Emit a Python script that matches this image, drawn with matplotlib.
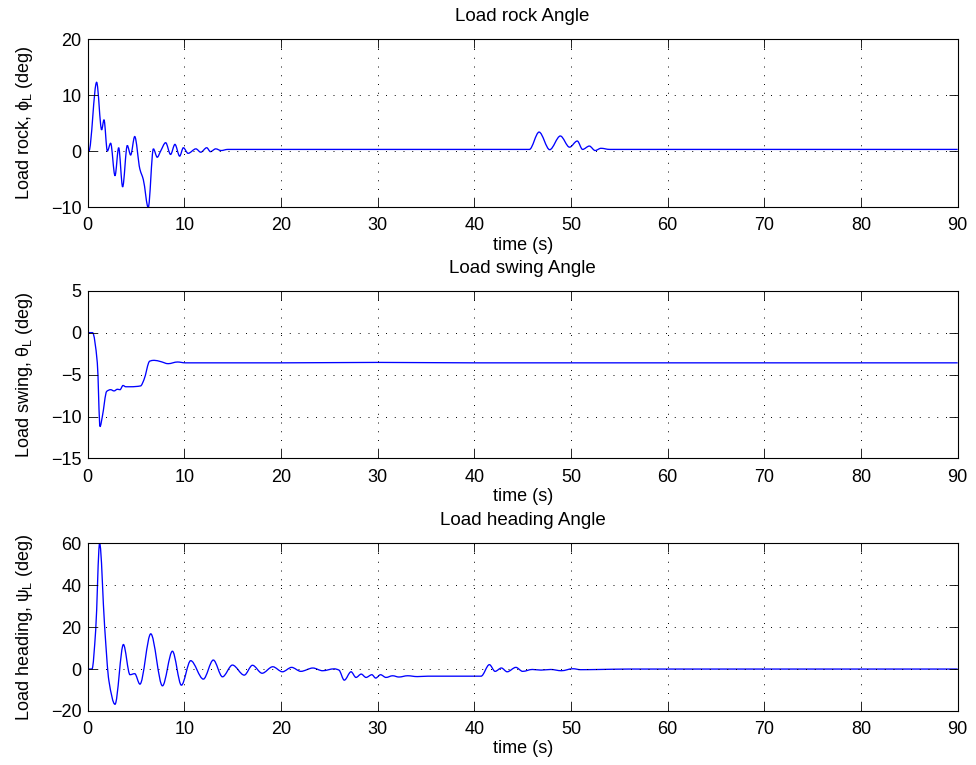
import matplotlib
matplotlib.use("Agg")
import matplotlib.pyplot as plt
from matplotlib.path import Path
from matplotlib.patches import PathPatch

plt.rcParams['font.family'] = ['Liberation Sans', 'DejaVu Sans']
plt.rcParams['mathtext.fontset'] = 'custom'
plt.rcParams['mathtext.rm'] = 'Liberation Sans'
plt.rcParams['mathtext.it'] = 'Liberation Sans'

# ----------------------------
# Data (time in s, angle in deg)
# ----------------------------

rock_t = [0, 0.13, 0.93, 1.45, 1.69, 2.04, 2.38, 2.83, 3.21, 3.62, 4.1, 4.45,
          4.87, 5.4, 5.76, 6.27, 6.8, 7.2, 7.55, 8.07, 8.58, 9.03, 9.52, 9.9,
          10.39, 11.2, 11.7, 12.32, 12.7, 13.25, 13.8, 14.5, 20, 30, 40, 45.7,
          46.7, 47.8, 48.9, 49.85, 50.65, 51.2, 51.9, 52.5, 53.1, 54, 60, 70,
          80, 90]
rock_v = [0, 0, 12.3, 3.8, 5.6, 0, 1.4, -4.4, 0.6, -6.4, 1.0, -0.7,
          2.6, -3.2, -5.1, -10.1, 0.4, -1.1, 0, 1.5, -0.6, 1.2, -0.9, 0.6,
          -0.4, 0.4, -0.2, 0.6, -0.1, 0.4, 0.1, 0.3, 0.3, 0.3, 0.3, 0.3,
          3.4, 0.25, 2.7, 0.7, 1.8, 0.3, 0.9, 0.1, 0.5, 0.3, 0.3, 0.3,
          0.3, 0.3]

swing_t = [0, 0.5, 1.0, 1.28, 1.52, 1.97, 2.38, 2.73, 3.08, 3.35, 3.66, 3.94,
           4.45, 5.48, 5.83, 6.42, 6.87, 7.55, 8.32, 9.3, 10.1, 20, 30, 40,
           50, 60, 70, 80, 90]
swing_v = [0, 0, -3.6, -11.2, -10.0, -7.0, -6.8, -6.95, -6.75, -6.8, -6.3, -6.45,
           -6.45, -6.35, -5.6, -3.4, -3.3, -3.45, -3.7, -3.5, -3.6, -3.6, -3.55,
           -3.6, -3.6, -3.6, -3.6, -3.6, -3.6]

head_t = [0, 0.45, 0.83, 1.24, 1.76, 2.2, 2.83, 3.7, 4.38, 4.87, 5.41, 6.53,
          7.74, 8.77, 9.7, 10.66, 11.97, 13.0, 13.95, 14.98, 16.2, 17.05, 18.05,
          19.15, 20.15, 21.1, 22.05, 23.3, 24.3, 25.5, 26.0, 26.55, 27.25, 27.76,
          28.3, 28.8, 29.4, 29.8, 30.3, 30.86, 31.55, 32.2, 33.1, 34.1, 35.2,
          37.6, 40.7, 41.56, 42.15, 42.8, 43.4, 44.3, 45.0, 46.0, 46.9, 47.9,
          49.0, 50.2, 51.0, 53.0, 56, 60, 70, 80, 90]
head_v = [0, 0, 18.4, 60, 20, -5.6, -16.8, 11.7, -2.7, -2.2, -7.2, 16.8,
          -8.0, 8.5, -7.7, 4.0, -4.8, 4.3, -3.7, 1.9, -2.9, 1.8, -2.0,
          1.1, -1.3, 0.8, -1.1, 0.5, -0.8, 0.1, -0.5, -5.3, -1.3, -4.0,
          -2.4, -4.0, -2.7, -4.3, -2.7, -4.0, -3.2, -3.8, -3.2, -3.6, -3.4,
          -3.4, -3.4, 2.1, -1.1, 0.5, -1.3, 0.8, -1.1, -0.2, -0.5, -0.2,
          -0.8, 0.15, -0.3, -0.2, 0, 0, 0, 0, 0]

PANELS = [
    ("Load rock Angle", r"Load rock, $\phi_L$ (deg)", rock_t, rock_v, (-10, 20), [-10, 0, 10, 20]),
    ("Load swing Angle", r"Load swing, $\theta_L$ (deg)", swing_t, swing_v, (-15, 5), [-15, -10, -5, 0, 5]),
    ("Load heading Angle", r"Load heading, $\psi_L$ (deg)", head_t, head_v, (-20, 60), [-20, 0, 20, 40, 60]),
]


def smooth_path(t, v):
    # monotone cubic (flat at turning points) through the read points, as bezier segments
    n = len(t)
    h = [t[i + 1] - t[i] for i in range(n - 1)]
    d = [(v[i + 1] - v[i]) / h[i] for i in range(n - 1)]
    m = [0.0] * n
    for i in range(1, n - 1):
        if d[i - 1] * d[i] > 0:
            w1 = 2 * h[i] + h[i - 1]
            w2 = h[i] + 2 * h[i - 1]
            m[i] = (w1 + w2) / (w1 / d[i - 1] + w2 / d[i])
    verts = [(t[0], v[0])]
    codes = [Path.MOVETO]
    for i in range(n - 1):
        verts += [(t[i] + h[i] / 3, v[i] + m[i] * h[i] / 3),
                  (t[i + 1] - h[i] / 3, v[i + 1] - m[i + 1] * h[i] / 3),
                  (t[i + 1], v[i + 1])]
        codes += [Path.CURVE4] * 3
    return Path(verts, codes)


fig = plt.figure(figsize=(9.76, 7.65), dpi=100)
bottoms = [0.7294, 0.4007, 0.0706]

for (title, ylabel, t, v, ylim, yticks), b in zip(PANELS, bottoms):
    ax = fig.add_axes([0.0898, b, 0.8914, 0.2193])
    ax.add_patch(PathPatch(smooth_path(t, v), facecolor="none", edgecolor="blue", linewidth=0.95))
    ax.set_xlim(0, 90)
    ax.set_ylim(*ylim)
    ax.set_xticks(range(0, 91, 10))
    ax.set_yticks(yticks)
    ax.grid(True, linestyle=(0, (1, 8)), color="black", linewidth=0.7)
    ax.tick_params(direction="in", top=True, right=True, labelsize=13,
                   length=6.3, width=0.6, pad=4.5)
    ax.tick_params(axis="x", pad=7.5)
    for s in ax.spines.values():
        s.set_linewidth(0.8)
    ax.set_title(title, fontsize=13.5, pad=13)
    ax.set_xlabel("time (s)", fontsize=13, labelpad=1.5)
    ax.set_ylabel(ylabel, fontsize=13, labelpad=11)

plt.savefig("out.png", dpi=100)
plt.close()
